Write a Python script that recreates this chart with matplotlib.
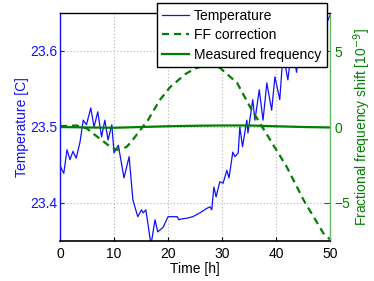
import matplotlib
matplotlib.use("Agg")
import matplotlib.pyplot as plt
import numpy as np

plt.rcParams['font.family'] = ['Liberation Sans', 'DejaVu Sans']

# Temperature data
temp_t = [0, 0.4, 0.7, 1.3, 1.85, 2.4, 3.0, 3.7, 4.3, 4.9, 5.7, 6.3, 7.0, 7.7, 8.3, 8.9,
          9.6, 10.0, 10.8, 11.85, 12.8, 13.5, 14.4, 15.1, 15.4, 15.9, 16.85, 17.6, 18.1,
          19.1, 20.0, 20.7, 21.7, 22.0, 22.5, 23.5, 24.6, 25.9, 27.2, 27.8, 28.1, 28.5,
          28.9, 29.6, 30.2, 30.9, 31.3, 32.0, 32.4, 33.0, 33.3, 33.8, 34.6, 34.8, 35.7,
          36.1, 36.9, 37.6, 38.3, 39.2, 39.8, 40.7, 41.3, 42.2, 43.0, 43.8, 44.6, 45.4,
          46.2, 47.0, 47.8, 48.5, 49.1, 50.0]
temp_v = [23.450, 23.443, 23.439, 23.470, 23.457, 23.468, 23.459, 23.480, 23.509, 23.503,
          23.525, 23.500, 23.520, 23.487, 23.509, 23.483, 23.503, 23.466, 23.476, 23.433,
          23.461, 23.404, 23.382, 23.391, 23.387, 23.391, 23.345, 23.378, 23.362, 23.368,
          23.382, 23.382, 23.382, 23.378, 23.379, 23.380, 23.382, 23.387, 23.393, 23.395,
          23.391, 23.421, 23.408, 23.428, 23.426, 23.443, 23.433, 23.467, 23.461, 23.466,
          23.500, 23.474, 23.509, 23.492, 23.536, 23.509, 23.549, 23.509, 23.558, 23.522,
          23.566, 23.536, 23.597, 23.562, 23.611, 23.572, 23.620, 23.590, 23.630, 23.600,
          23.635, 23.610, 23.632, 23.647]

# FF correction (1e-9)
ff_t = [0, 3, 5, 6, 7.7, 9.3, 10.5, 12.3, 13.2, 15.3, 16.3, 18.5, 20.4, 23.3, 25.0,
        27.2, 29.6, 32.8, 35.2, 37.0, 38.6, 42.0, 45.1, 48.8, 50.0]
ff_v = [0.05, 0.1, -0.1, -0.4, -0.85, -1.3, -1.5, -1.32, -0.97, 0.0, 0.46, 1.78, 2.63,
        3.5, 3.85, 4.08, 3.9, 2.9, 1.32, 0.26, -0.66, -2.63, -4.8, -7.0, -7.4]

# Measured frequency (1e-9)
meas_t = [0, 5, 10, 15, 20, 25, 30, 35, 40, 45, 50]
meas_v = [0.0, -0.03, -0.05, 0.0, 0.05, 0.08, 0.1, 0.1, 0.05, 0.0, -0.03]

blue = '#1010ff'
green = '#007f00'

fig = plt.figure(figsize=(3.74, 2.81), dpi=100)
ax = fig.add_axes([60/374, 1-241/281, 270/374, 228/281])
ax2 = ax.twinx()

l1, = ax.plot(temp_t, temp_v, color=blue, lw=0.9, label='Temperature')
l2, = ax2.plot(ff_t, ff_v, color=green, lw=1.6, ls=(0, (3.2, 2.2)), label='FF correction')
l3, = ax2.plot(meas_t, meas_v, color=green, lw=1.6, label='Measured frequency')

ax.set_xlim(0, 50)
ax.set_ylim(23.35, 23.65)
ax2.set_ylim(-7.5, 7.5)
ax.set_xticks([0, 10, 20, 30, 40, 50])
ax.set_yticks([23.4, 23.5, 23.6])
ax.set_yticklabels(['23.4', '23.5', '23.6'])
ax2.set_yticks([-5, 0, 5])
ax2.set_yticklabels(['\u22125', '0', '5'])

ax.grid(True, color='#b0b0b0', ls=(0, (1, 2)), lw=0.8)
ax.set_axisbelow(True)

ax.tick_params(axis='x', direction='in', length=3, pad=4, labelsize=10, colors='black')
ax.tick_params(axis='y', direction='in', length=3, pad=2, labelsize=10, colors=blue)
ax2.tick_params(axis='y', direction='in', length=4, pad=3, labelsize=10, colors=green)

ax2.spines['left'].set_color(blue)
ax2.spines['right'].set_color('#66b866')
ax2.spines['top'].set_color('black')
ax2.spines['bottom'].set_color('black')
for sp in ax.spines.values():
    sp.set_visible(False)
for sp in ax2.spines.values():
    sp.set_linewidth(1.0)
ax2.spines['bottom'].set_linewidth(1.2)

ax.set_xlabel('Time [h]', fontsize=10, labelpad=1)
ax.set_ylabel('Temperature [C]', fontsize=10, color=blue, labelpad=1)
ax2.set_ylabel('Fractional frequency shift [10$^{-9}$]', fontsize=10, color=green, labelpad=1)

leg = fig.legend(handles=[l1, l2, l3], loc='upper right',
                 bbox_to_anchor=(326.5/374, 1-3/281), bbox_transform=fig.transFigure,
                 fontsize=10, fancybox=False, framealpha=1, edgecolor='black',
                 borderpad=0.4, labelspacing=0.4, handlelength=1.9, handletextpad=0.35,
                 borderaxespad=0)
leg.get_frame().set_linewidth(1.0)

fig.savefig('out.png', dpi=100)
